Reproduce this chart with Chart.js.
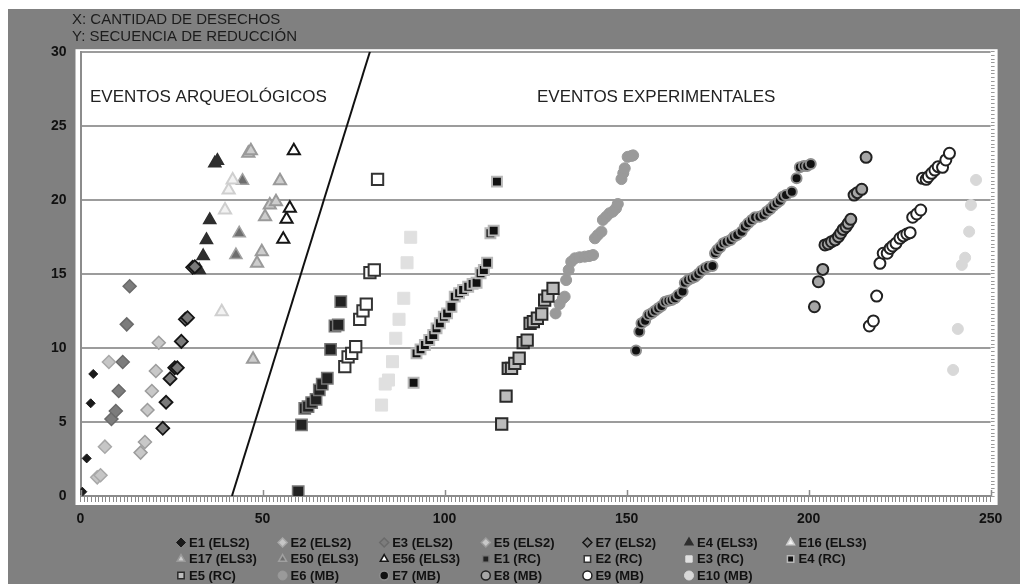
<!DOCTYPE html>
<html>
<head>
<meta charset="utf-8">
<script src="https://cdn.jsdelivr.net/npm/chart.js@4.4.1/dist/chart.umd.min.js"></script>
<style>
  html, body { margin: 0; padding: 0; background: #ffffff; }
  canvas { display: block; }
</style>
</head>
<body>
<canvas id="chart" width="1020" height="584"></canvas>
<script>
// Axis captions and region labels
const axisCaptions = ['X: CANTIDAD DE DESECHOS', 'Y: SECUENCIA DE REDUCCIÓN'];
const regionLabels = ['EVENTOS ARQUEOLÓGICOS', 'EVENTOS EXPERIMENTALES'];
const regionAnchors = [[2.6, 26.9], [125.4, 26.9]];
const xMajorTicks = [0, 50, 100, 150, 200, 250];
const yMajorTicks = [0, 5, 10, 15, 20, 25, 30];

// Divider between archaeological and experimental events
const dividerLine = [[41.6, 0], [79.5, 30]];

// Series: [cantidad de desechos, secuencia de reducción]
const e1ELS2 = [[0.5, 0.29], [1.7, 2.54], [2.8, 6.26], [3.5, 8.24]];
const e2ELS2 = [[4.6, 1.26], [5.5, 1.4], [6.7, 3.33], [7.8, 9.05]];
const e3ELS2 = [[8.5, 5.2], [9.7, 5.74], [10.5, 7.09], [11.6, 9.05], [12.7, 11.59], [13.5, 14.16]];
const e5ELS2 = [[16.5, 2.93], [17.7, 3.65], [18.4, 5.81], [19.6, 7.09], [20.7, 8.44], [21.5, 10.35]];
const e7ELS2 = [[22.6, 4.57], [23.5, 6.33], [24.6, 7.92], [25.9, 8.66], [26.6, 8.66], [27.7, 10.44],
                [28.8, 11.93], [29.4, 12.04], [30.8, 15.44], [31.4, 15.48]];
const e4ELS3 = [[32.6, 15.26], [33.7, 16.2], [34.6, 17.29], [35.5, 18.64], [36.9, 22.46], [37.6, 22.64]];
const e16ELS3 = [[38.8, 12.44], [39.7, 19.31], [40.7, 20.66], [41.8, 21.34]];
const e17ELS3 = [[46.1, 23.14], [46.8, 23.32], [47.4, 9.23], [48.5, 15.71], [49.8, 16.5], [50.7, 18.86],
                 [52.0, 19.65], [53.7, 19.87], [54.8, 21.29]];
const e50ELS3 = [[42.7, 16.27], [43.6, 17.74], [44.5, 21.29]];
const e56ELS3 = [[55.7, 17.33], [56.6, 18.68], [57.5, 19.43], [58.6, 23.32]];
const e1RC = [[59.8, 0.29], [60.7, 4.8], [61.6, 5.92], [62.5, 6.03], [63.5, 6.3], [64.7, 6.53], [65.6, 7.16],
              [66.4, 7.56], [67.8, 7.95], [68.7, 9.9], [69.9, 11.48], [70.8, 11.55], [71.5, 13.12]];
const e2RC = [[72.6, 8.73], [73.5, 9.4], [74.5, 9.63], [75.6, 10.08], [76.7, 11.93], [77.6, 12.5],
              [78.5, 12.96], [79.5, 15.08], [80.7, 15.26], [81.6, 21.38]];
const e3RC = [[82.7, 6.14], [83.7, 7.56], [84.6, 7.83], [85.7, 9.07], [86.6, 10.65], [87.5, 11.93],
              [88.8, 13.35], [89.7, 15.75], [90.7, 17.47]];
const e4RC = [[91.5, 7.65], [92.3, 9.63], [93.4, 9.9], [94.6, 10.2], [95.8, 10.53], [96.9, 10.87],
              [97.8, 11.32], [98.7, 11.66], [99.8, 12.1], [100.7, 12.33], [101.9, 12.78], [102.8, 13.46],
              [104.0, 13.69], [105.1, 13.91], [106.5, 14.13], [107.7, 14.32], [108.8, 14.4], [109.9, 15.04],
              [110.8, 15.26], [111.7, 15.75], [112.6, 17.74], [113.5, 17.92], [114.4, 21.23]];
const e5RC = [[115.7, 4.86], [116.9, 6.75], [117.5, 8.62], [118.4, 8.62], [119.3, 8.96], [120.5, 9.3],
              [121.6, 10.35], [122.7, 10.53], [123.5, 11.66], [124.4, 11.77], [125.5, 12.0], [126.7, 12.29],
              [127.5, 13.23], [128.4, 13.5], [129.8, 14.02]];
const e6MB = [[130.5, 12.33], [131.6, 12.96], [132.5, 13.35], [133.0, 13.46], [133.4, 14.58], [134.1, 15.26],
              [134.8, 15.82], [135.8, 16.05], [137.1, 16.12], [138.5, 16.16], [139.7, 16.2], [140.8, 16.27],
              [141.3, 17.4], [142.1, 17.62], [143.1, 17.85], [143.5, 18.64], [144.4, 18.86], [145.3, 19.09],
              [146.2, 19.2], [147.1, 19.43], [147.6, 19.72], [148.6, 21.4], [149.1, 21.8], [149.5, 22.13],
              [150.3, 22.9], [151.3, 22.96], [151.8, 23.0]];
const e7MB = [[152.6, 9.82], [153.5, 11.1], [154.1, 11.66], [155.1, 11.84], [156.0, 12.22], [156.9, 12.34],
              [157.8, 12.51], [158.7, 12.67], [159.6, 12.83], [160.6, 13.12], [161.5, 13.19], [162.4, 13.23],
              [163.3, 13.35], [164.2, 13.57], [165.4, 13.8], [166.0, 14.4], [166.9, 14.58], [167.9, 14.7],
              [168.8, 14.81], [169.7, 14.99], [170.6, 15.21], [171.5, 15.37], [172.4, 15.48], [173.6, 15.53],
              [174.3, 16.39], [174.9, 16.61], [175.7, 16.79], [176.6, 17.06], [177.5, 17.17], [178.6, 17.29],
              [179.5, 17.51], [180.4, 17.62], [181.6, 17.85], [182.5, 18.18], [183.4, 18.41], [184.4, 18.64],
              [185.3, 18.82], [186.5, 18.86], [187.6, 18.97], [188.5, 19.2], [189.4, 19.36], [190.3, 19.58],
              [191.2, 19.76], [192.1, 19.94], [192.9, 20.21], [193.8, 20.32], [195.4, 20.55], [196.7, 21.45],
              [197.6, 22.19], [198.7, 22.28], [199.6, 22.28], [200.6, 22.42]];
const e8MB = [[201.6, 12.78], [202.7, 14.47], [203.9, 15.3], [204.5, 16.95], [205.4, 17.02], [206.3, 17.17],
              [207.3, 17.29], [208.2, 17.51], [208.8, 17.74], [209.5, 18.0], [210.3, 18.18], [210.9, 18.41],
              [211.6, 18.68], [212.5, 20.32], [213.4, 20.48], [214.6, 20.71], [215.8, 22.87]];
const e9MB = [[216.7, 11.48], [217.8, 11.82], [218.7, 13.5], [219.6, 15.71], [220.5, 16.39], [221.6, 16.39],
              [222.4, 16.72], [223.1, 16.88], [224.0, 17.06], [225.1, 17.4], [226.0, 17.56], [227.0, 17.69],
              [227.9, 17.78], [228.6, 18.82], [229.7, 19.04], [230.8, 19.31], [231.3, 21.45], [232.3, 21.38],
              [232.9, 21.56], [233.8, 21.79], [234.7, 22.01], [235.6, 22.24], [236.8, 22.19], [237.7, 22.69],
              [238.7, 23.14]];
const e10MB = [[239.7, 8.51], [241.0, 11.28], [242.1, 15.6], [243.0, 16.09], [244.1, 17.85], [244.6, 19.65],
               [246.0, 21.34]];

const toPoints = arr => arr.map(([x, y]) => ({ x, y }));

// Marker appearance per series
function series(label, data, style, fill, border, width, radius) {
  return {
    type: 'scatter', label, data: toPoints(data),
    pointStyle: style, backgroundColor: fill, borderColor: border,
    pointBorderWidth: width, pointRadius: radius, pointHoverRadius: radius,
    legendRadius: Math.min(radius, 4.5)
  };
}

const datasets = [
  series('E1 (ELS2)', e1ELS2, 'rectRot', '#1a1a1a', '#1a1a1a', 1, 4.5),
  series('E2 (ELS2)', e2ELS2, 'rectRot', '#c6c6c6', '#a8a8a8', 1.5, 6.5),
  series('E3 (ELS2)', e3ELS2, 'rectRot', '#7c7c7c', '#6a6a6a', 1.5, 6.5),
  series('E5 (ELS2)', e5ELS2, 'rectRot', '#c8c8c8', '#9c9c9c', 1.5, 6.5),
  series('E7 (ELS2)', e7ELS2, 'rectRot', '#7a7a7a', '#151515', 1.8, 6.5),
  series('E4 (ELS3)', e4ELS3, 'triangle', '#2e2e2e', '#2e2e2e', 1.5, 7),
  series('E16 (ELS3)', e16ELS3, 'triangle', '#f2f2f2', '#cfcfcf', 2, 7),
  series('E17 (ELS3)', e17ELS3, 'triangle', '#cdcdcd', '#9a9a9a', 2, 7),
  series('E50 (ELS3)', e50ELS3, 'triangle', '#6e6e6e', '#a0a0a0', 1.5, 7),
  series('E56 (ELS3)', e56ELS3, 'triangle', '#ffffff', '#151515', 2, 7),
  series('E1 (RC)', e1RC, 'rect', '#222222', '#777777', 1.5, 8),
  series('E2 (RC)', e2RC, 'rect', '#ffffff', '#333333', 2, 8),
  series('E3 (RC)', e3RC, 'rect', '#e0e0e0', '#e0e0e0', 1, 8.5),
  series('E4 (RC)', e4RC, 'rect', '#111111', '#b8b8b8', 2, 7),
  series('E5 (RC)', e5RC, 'rect', '#bcbcbc', '#2a2a2a', 2, 8),
  series('E6 (MB)', e6MB, 'circle', '#9a9a9a', '#9a9a9a', 1, 5.5),
  series('E7 (MB)', e7MB, 'circle', '#111111', '#8e8e8e', 2, 5),
  series('E8 (MB)', e8MB, 'circle', '#a6a6a6', '#222222', 2, 5.5),
  series('E9 (MB)', e9MB, 'circle', '#ffffff', '#222222', 2, 5.5),
  series('E10 (MB)', e10MB, 'circle', '#d8d8d8', '#d8d8d8', 1, 5.5),
  {
    type: 'line', label: 'divisor', data: toPoints(dividerLine),
    borderColor: '#111111', borderWidth: 2, pointRadius: 0, fill: false, showInLegend: false
  }
];

const NARROW = "'Liberation Sans Narrow', 'Liberation Sans', Arial, sans-serif";
const SANS = "'Liberation Sans', Arial, sans-serif";

// Gray page, white plotting panel
const panelPlugin = {
  id: 'panel',
  beforeDraw(chart) {
    const { ctx, chartArea: a } = chart;
    ctx.save();
    ctx.fillStyle = '#ffffff';
    ctx.fillRect(0, 0, chart.width, chart.height);
    ctx.fillStyle = '#808080';
    ctx.fillRect(8, 9, chart.width - 8, chart.height - 9);
    ctx.fillStyle = '#ffffff';
    ctx.fillRect(a.left - 5, a.top - 2.5, a.right - a.left + 12, a.bottom - a.top + 11.5);
    ctx.restore();
  },
  afterDraw(chart) {
    const { ctx, chartArea: a, scales } = chart;
    ctx.save();
    // upward major ticks on the x axis
    ctx.strokeStyle = '#8c8c8c';
    ctx.lineWidth = 1.5;
    xMajorTicks.forEach(v => {
      const px = Math.round(scales.x.getPixelForValue(v)) + 0.5;
      ctx.beginPath();
      ctx.moveTo(px, a.bottom);
      ctx.lineTo(px, a.bottom - 6);
      ctx.stroke();
    });
    // captions
    ctx.fillStyle = '#1c1c1c';
    ctx.font = '15px ' + SANS;
    ctx.textBaseline = 'middle';
    ctx.textAlign = 'left';
    ctx.fillText(axisCaptions[0], 72, 20);
    ctx.fillText(axisCaptions[1], 72, 37);
    // region labels
    ctx.font = '17px ' + SANS;
    ctx.fillStyle = '#222222';
    regionLabels.forEach((t, i) => {
      ctx.fillText(t, scales.x.getPixelForValue(regionAnchors[i][0]),
                      scales.y.getPixelForValue(regionAnchors[i][1]));
    });
    // legend grid: 7 columns x 3 rows
    const cols = 7, colW = 101.6, x0 = 181, rowY = [542.5, 559, 575.5];
    ctx.font = 'bold 13px ' + NARROW;
    let k = 0;
    chart.data.datasets.forEach(ds => {
      if (ds.showInLegend === false) return;
      const col = k % cols, row = Math.floor(k / cols);
      const cx = x0 + col * colW, cy = rowY[row];
      ctx.fillStyle = ds.backgroundColor;
      ctx.strokeStyle = ds.borderColor;
      ctx.lineWidth = Math.min(ds.pointBorderWidth, 1.5);
      Chart.helpers.drawPoint(ctx, {
        pointStyle: ds.pointStyle, rotation: 0, radius: ds.legendRadius,
        borderWidth: Math.min(ds.pointBorderWidth, 1.5)
      }, cx, cy);
      ctx.fillStyle = '#111111';
      ctx.fillText(ds.label, cx + 8, cy + 0.5);
      k++;
    });
    ctx.restore();
  }
};

new Chart(document.getElementById('chart'), {
  data: { datasets },
  options: {
    responsive: false,
    animation: false,
    events: [],
    layout: { padding: { left: 0.5, right: 23.4, top: 51.7, bottom: 48 } },
    plugins: { legend: { display: false }, tooltip: { enabled: false } },
    scales: {
      x: {
        type: 'linear', position: 'bottom', min: 0, max: 250,
        afterFit: s => { s.height = 40; },
        border: { display: true, color: '#8c8c8c', width: 2 },
        grid: { drawOnChartArea: false, drawTicks: true, tickLength: 6, color: '#8a8a8a', lineWidth: 1 },
        ticks: {
          stepSize: 1, autoSkip: false, maxRotation: 0, minRotation: 0, padding: 9,
          color: '#111111', font: { family: NARROW, size: 14, weight: 'bold' },
          callback: v => (xMajorTicks.includes(v) ? String(v) : '')
        }
      },
      y: {
        type: 'linear', position: 'left', min: 0, max: 30,
        afterFit: s => { s.width = 80; },
        border: { display: true, color: '#8c8c8c', width: 2 },
        grid: { drawOnChartArea: true, drawTicks: false, color: '#9c9c9c', lineWidth: 2 },
        ticks: {
          stepSize: 5, padding: 14, color: '#111111',
          font: { family: NARROW, size: 14, weight: 'bold' },
          callback: v => (yMajorTicks.includes(v) ? String(v) : '')
        }
      },
      y2: {
        type: 'linear', position: 'right', min: 0, max: 30,
        afterFit: s => { s.width = 6; },
        border: { display: false },
        grid: { drawOnChartArea: false, drawTicks: true, tickLength: 4, color: '#9a9a9a', lineWidth: 1 },
        ticks: { display: false, stepSize: 0.25, autoSkip: false }
      }
    }
  },
  plugins: [panelPlugin]
});
</script>
</body>
</html>
